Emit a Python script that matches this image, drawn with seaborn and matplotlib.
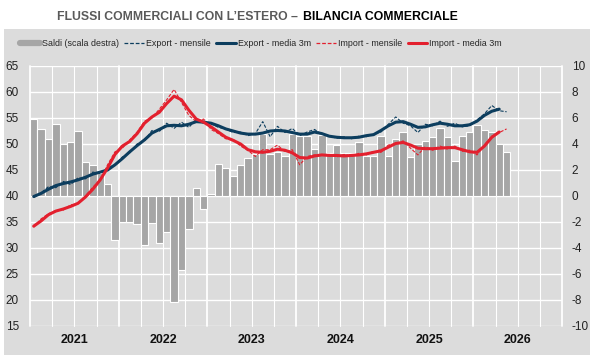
#!/usr/bin/env python3

"""Flussi commerciali con l'estero - bilancia commerciale (export/import + saldi)."""

import numpy as np
import seaborn as sns
import matplotlib.pyplot as plt
from matplotlib import font_manager
from matplotlib.lines import Line2D
from matplotlib.patches import Rectangle

####################################################################################################
# DATA (monthly, Jan 2021 -> May 2026)

YEARS = ["2021", "2022", "2023", "2024", "2025", "2026"]

SALDI = [
    5.9, 5.15, 4.36, 5.54, 4.02, 4.18, 5.03, 2.64, 2.38, 1.74, 0.9, -3.38,
    -2.03, -2.03, -2.15, -3.77, -2.08, -3.59, -2.8, -8.15, -5.69, -2.56, 0.59, -1.0,
    0.15, 2.44, 2.13, 1.51, 2.38, 2.92, 3.2, 4.8, 3.2, 3.41, 3.08, 4.74,
    4.64, 4.6, 3.59, 4.7, 3.3, 3.92, 3.3, 3.3, 4.13, 3.1, 3.1, 4.64,
    3.08, 4.36, 4.92, 3.0, 4.02, 4.25, 4.54, 5.23, 4.56, 2.72, 4.64, 4.95,
    5.49, 5.1, 4.95, 4.0, 3.41,
]

EXPORT_M = [
    39.7, 40.6, 41.8, 41.6, 42.8, 42.2, 43.5, 43.3, 44.6, 44.3, 45.4, 46.0,
    47.5, 48.3, 50.0, 50.6, 52.6, 52.4, 54.0, 53.0, 54.2, 53.2, 54.7, 54.0,
    53.9, 53.2, 52.9, 52.2, 52.3, 51.6, 52.0, 54.3, 51.4, 53.4, 52.2, 53.0,
    51.6, 52.3, 52.8, 51.9, 51.6, 51.1, 51.4, 51.0, 51.5, 51.4, 51.9, 52.3,
    53.8, 55.2, 54.0, 53.5, 52.2, 53.8, 53.5, 54.4, 53.4, 54.0, 53.3, 53.5,
    54.6, 55.8, 57.4, 56.4, 56.2,
]

EXPORT_3M = [
    39.9, 40.5, 41.3, 42.0, 42.4, 42.7, 43.1, 43.6, 44.2, 44.6, 45.0, 46.0,
    47.2, 48.5, 49.7, 50.8, 52.1, 52.8, 53.5, 53.6, 53.5, 53.8, 54.3, 54.2,
    54.0, 53.5, 52.9, 52.5, 52.1, 51.9, 51.9, 52.1, 52.5, 52.6, 52.5, 52.2,
    51.9, 51.9, 52.3, 52.0, 51.5, 51.3, 51.2, 51.2, 51.3, 51.6, 51.8, 52.6,
    53.5, 54.2, 54.3, 53.8, 53.2, 53.3, 53.7, 54.0, 53.8, 53.5, 53.5, 53.7,
    54.4, 55.5, 56.3, 56.7, np.nan,
]

IMPORT_M = [
    34.0, 35.6, 36.6, 37.2, 37.3, 38.3, 38.5, 40.0, 41.7, 43.0, 46.0, 48.5,
    49.2, 50.8, 52.3, 54.4, 55.0, 56.7, 58.5, 60.5, 58.0, 55.5, 54.3, 54.8,
    52.8, 52.0, 51.0, 50.9, 49.6, 48.8, 47.6, 48.9, 48.9, 49.8, 48.5, 48.9,
    46.0, 47.6, 47.9, 47.8, 48.0, 47.5, 48.0, 47.6, 48.2, 47.9, 48.6, 48.4,
    49.8, 50.0, 50.6, 49.2, 47.9, 49.5, 48.8, 49.6, 49.0, 49.6, 48.6, 48.8,
    47.9, 49.8, 51.5, 52.2, 52.9,
]

IMPORT_3M = [
    34.2, 35.2, 36.4, 37.1, 37.5, 38.0, 38.6, 39.8, 41.3, 43.1, 45.4, 48.0,
    49.6, 50.5, 52.0, 54.0, 55.2, 56.1, 57.8, 59.2, 58.5, 56.5, 54.8, 54.2,
    53.3, 52.3, 51.3, 50.7, 50.0, 48.9, 48.5, 48.4, 48.6, 49.0, 48.8, 48.3,
    47.4, 47.3, 47.7, 47.9, 47.8, 47.8, 47.7, 47.8, 47.9, 48.1, 48.4, 48.7,
    49.4, 50.1, 50.3, 49.8, 49.2, 49.1, 49.1, 49.2, 49.3, 49.3, 48.9, 48.5,
    48.4, 49.6, 51.3, 52.3, np.nan,
]

####################################################################################################
# STYLE

BG = "#dcdcdc"
BAR_COLOR = "#a6a6a6"
EXP_COLOR = "#0c3d5e"
IMP_COLOR = "#e3202e"

sns.set_theme(style="darkgrid", rc={
    "axes.facecolor": BG,
    "grid.color": "white",
    "axes.edgecolor": BG,
    "xtick.major.size": 0,
    "ytick.major.size": 0,
    "axes.unicode_minus": False,
})

# the original uses a condensed Arial-like face; use a narrow one if there is one
installed = {f.name for f in font_manager.fontManager.ttflist}
NARROW = "Liberation Sans Narrow" in installed
FAMILY = ["Liberation Sans Narrow", "DejaVu Sans"] if NARROW else ["Liberation Sans", "DejaVu Sans"]
plt.rcParams["font.family"] = FAMILY
LEGEND_SIZE = 7.5 if NARROW else 6.4
TITLE_SIZE = 10.5 if NARROW else 8.8

fig = plt.figure(figsize=(6, 3.6), dpi=100, facecolor="white")
fig.patches.append(Rectangle((4 / 600, 5 / 360), 586 / 600, 326 / 360,
                             transform=fig.transFigure, facecolor=BG,
                             edgecolor="none", zorder=-10))

ax_bar = fig.add_axes([30 / 600, 34 / 360, 532 / 600, 260 / 360])
idx = list(range(len(SALDI)))

sns.barplot(x=idx, y=SALDI, ax=ax_bar, color=BAR_COLOR, saturation=1,
            width=1.0, edgecolor="white", linewidth=0.8, zorder=2)

ax_bar.set_axisbelow(True)
ax_bar.grid(False, axis="x")
ax_bar.grid(True, axis="y", color="white", linewidth=1.0)
for k in range(25):
    ax_bar.axvline(-0.5 + 3 * k, color="white", linewidth=1.3 if k % 4 == 0 else 0.8,
                   zorder=0.5, clip_on=False)

ax_bar.set_xlim(-0.5, 71.5)
ax_bar.set_ylim(-10, 10)
ax_bar.set_yticks(range(-10, 11, 2))
ax_bar.set_xticks([5.5 + 12 * k for k in range(len(YEARS))])
ax_bar.set_xticklabels(YEARS, fontweight="bold", fontsize=9)
ax_bar.tick_params(axis="x", pad=6, colors="#111111")
ax_bar.set_xlabel("")

# lines on a twin axis (left scale), drawn above the bars
ax_line = ax_bar.twinx()
ax_line.patch.set_visible(False)
ax_line.grid(False)
sns.lineplot(x=idx, y=EXPORT_M, ax=ax_line, color=EXP_COLOR, linewidth=0.8,
             linestyle=(0, (3, 1.5)))
sns.lineplot(x=idx, y=IMPORT_M, ax=ax_line, color=IMP_COLOR, linewidth=0.8,
             linestyle=(0, (3, 1.5)))
sns.lineplot(x=idx, y=EXPORT_3M, ax=ax_line, color=EXP_COLOR, linewidth=2.2)
sns.lineplot(x=idx, y=IMPORT_3M, ax=ax_line, color=IMP_COLOR, linewidth=2.2)

ax_line.set_ylim(15, 65)
ax_line.set_yticks(range(15, 66, 5))
ax_line.set_xlim(-0.5, 71.5)

# swap sides: bar scale on the right, line scale on the left
ax_bar.tick_params(axis="y", left=False, labelleft=False, right=False, labelright=True,
                   labelsize=8.5, pad=7, colors="#222222")
ax_line.tick_params(axis="y", right=False, labelright=False, left=False, labelleft=True,
                    labelsize=8.5, pad=8, colors="#222222")

for ax in (ax_bar, ax_line):
    for s in ax.spines.values():
        s.set_visible(False)

# LEGEND
handles = [
    Line2D([], [], color=BAR_COLOR, linewidth=4.5),
    Line2D([], [], color=EXP_COLOR, linewidth=0.9, linestyle=(0, (3, 1.5))),
    Line2D([], [], color=EXP_COLOR, linewidth=2.2),
    Line2D([], [], color=IMP_COLOR, linewidth=0.9, linestyle=(0, (3, 1.5))),
    Line2D([], [], color=IMP_COLOR, linewidth=2.2),
]
labels = ["Saldi (scala destra)", "Export - mensile", "Export - media 3m",
          "Import - mensile", "Import - media 3m"]
fig.legend(handles, labels, loc="center", bbox_to_anchor=(261 / 600, 1 - 44 / 360), ncol=5,
           frameon=False, fontsize=LEGEND_SIZE, handlelength=2.2, handletextpad=0.25,
           columnspacing=0.6)

# TITLE (two colours)
fig.text(298 / 600, 1 - 17 / 360, "FLUSSI COMMERCIALI CON L’ESTERO –", ha="right", va="center",
         fontsize=TITLE_SIZE, fontweight="bold", color="#5a5a5a")
fig.text(303 / 600, 1 - 17 / 360, "BILANCIA COMMERCIALE", ha="left", va="center",
         fontsize=TITLE_SIZE, fontweight="bold", color="black")

fig.savefig("out.png", dpi=100)
